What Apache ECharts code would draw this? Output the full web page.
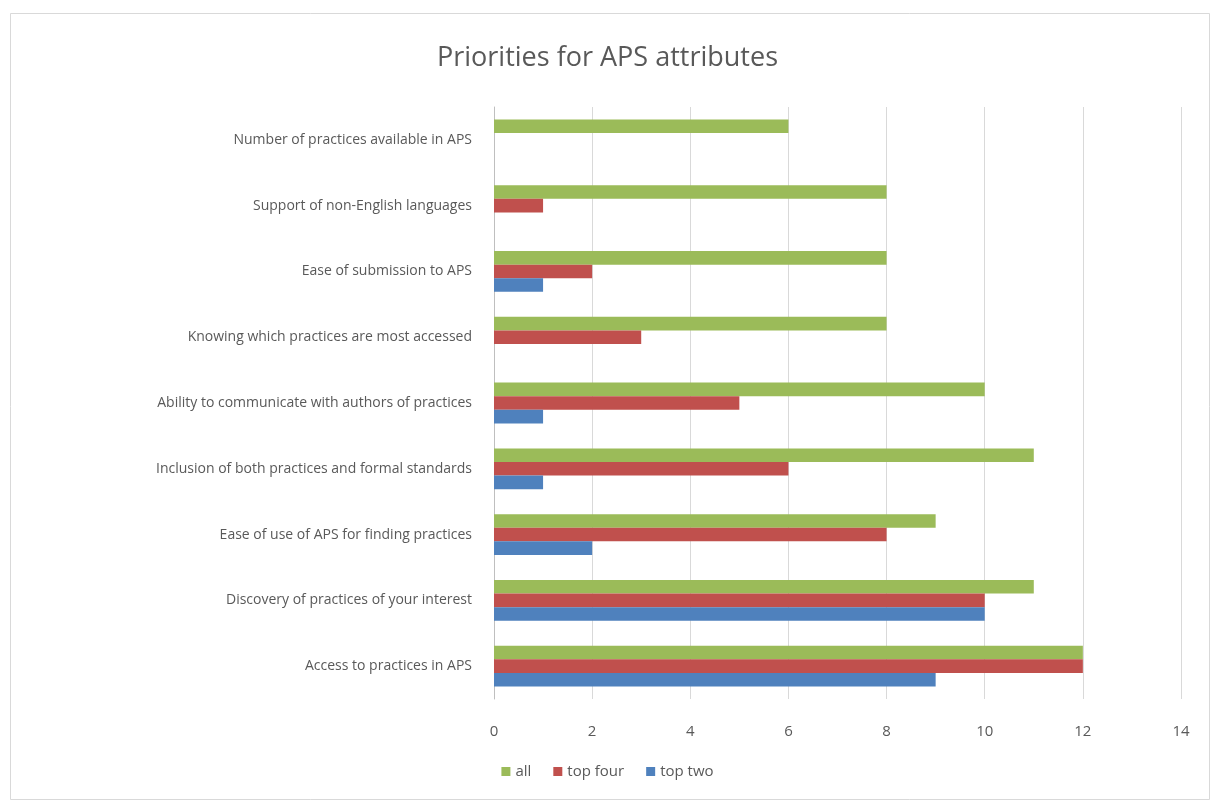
<!DOCTYPE html>
<html>
<head>
<meta charset="utf-8">
<script src="https://cdn.jsdelivr.net/npm/echarts@6/dist/echarts.min.js"></script>
<style>html,body{margin:0;padding:0;background:#fff}#c{width:1215px;height:805px}</style>
</head>
<body>
<div id="c"></div>
<script>
const categories = [
  "Access to practices in APS",
  "Discovery of practices of your interest",
  "Ease of use of APS for finding practices",
  "Inclusion of both practices and formal standards",
  "Ability to communicate with authors of practices",
  "Knowing which practices are most accessed",
  "Ease of submission to APS",
  "Support of non-English languages",
  "Number of practices available in APS"
];
const allValues     = [12, 11, 9, 11, 10, 8, 8, 8, 6];
const topFourValues = [12, 10, 8, 6, 5, 3, 2, 1, 0];
const topTwoValues  = [9, 10, 2, 1, 1, 0, 1, 0, 0];
const xTicks = [0, 2, 4, 6, 8, 10, 12, 14];

const chart = echarts.init(document.getElementById('c'));
const fontFam = '"Open Sans", "DejaVu Sans", sans-serif';
chart.setOption({
  animation: false,
  backgroundColor: '#fff',
  graphic: [{
    type: 'rect', shape: {x: 10.5, y: 13.5, width: 1199, height: 786},
    style: {fill: 'none', stroke: '#d9d9d9', lineWidth: 1}, silent: true
  }],
  title: {
    text: 'Priorities for APS attributes',
    left: 'center', top: 40,
    textStyle: {fontFamily: fontFam, fontSize: 27, fontWeight: 'normal', color: '#595959'}
  },
  legend: {
    data: ['all', 'top four', 'top two'],
    bottom: 21, left: 'center',
    itemWidth: 9, itemHeight: 9, itemGap: 22,
    icon: 'rect',
    textStyle: {fontFamily: fontFam, fontSize: 15, color: '#595959'}
  },
  grid: {left: 494, right: 34, top: 107, bottom: 106, containLabel: false},
  xAxis: {
    type: 'value', min: 0, max: 14, interval: 2,
    axisLine: {show: false}, axisTick: {show: false},
    splitLine: {lineStyle: {color: '#d9d9d9'}},
    axisLabel: {fontFamily: fontFam, fontSize: 15, color: '#595959', margin: 25,
      formatter: v => xTicks.includes(v) ? String(v) : ''}
  },
  yAxis: {
    type: 'category', data: categories,
    axisLine: {show: true, lineStyle: {color: '#bfbfbf'}},
    axisTick: {show: false},
    axisLabel: {fontFamily: fontFam, fontSize: 14, color: '#595959', margin: 22}
  },
  series: [
    {name: 'all', type: 'bar', data: allValues, itemStyle: {color: '#9BBB59'}, barGap: '0%', barCategoryGap: '38%'},
    {name: 'top four', type: 'bar', data: topFourValues, itemStyle: {color: '#C0504D'}, barGap: '0%', barCategoryGap: '38%'},
    {name: 'top two', type: 'bar', data: topTwoValues, itemStyle: {color: '#4F81BD'}, barGap: '0%', barCategoryGap: '38%'}
  ]
});
</script>
</body>
</html>
